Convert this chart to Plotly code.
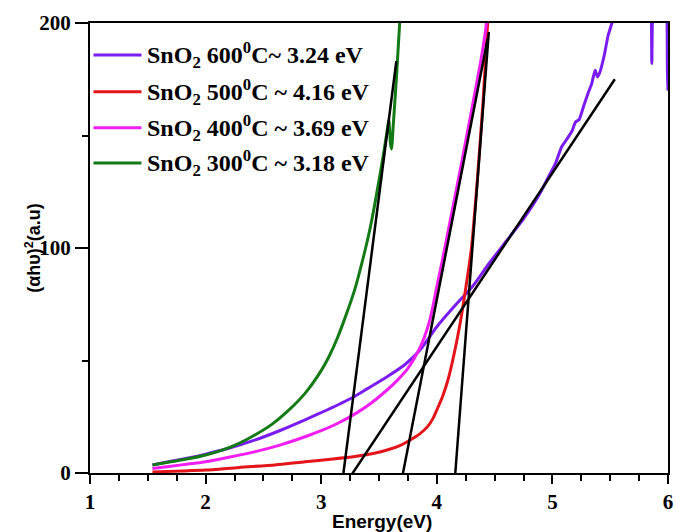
import plotly.graph_objects as go

# ---------------- data ----------------
x_300 = [1.54, 1.7, 1.85, 2.0, 2.15, 2.29, 2.43, 2.57, 2.71, 2.86, 3.0, 3.07, 3.14, 3.21, 3.29,
         3.37, 3.42, 3.46, 3.5, 3.54, 3.57, 3.585, 3.60, 3.61, 3.62, 3.65, 3.68, 3.70]
y_300 = [3.6, 5.0, 6.3, 8.0, 10.3, 13.2, 17.0, 21.5, 27.5, 35.4, 45.5, 52.0, 60.0, 69.5, 81.5,
         97.0, 108.0, 118.5, 130.0, 142.0, 152.0, 157.0, 146.0, 144.0, 152.0, 175.0, 201.0, 215.0]

x_400 = [1.54, 1.7, 1.85, 2.0, 2.2, 2.43, 2.65, 2.86, 3.0, 3.14, 3.3, 3.43, 3.55, 3.66, 3.75,
         3.83, 3.89, 3.94, 3.97, 4.0, 4.05, 4.1, 4.2, 4.3, 4.38, 4.42, 4.44]
y_400 = [2.0, 3.0, 4.0, 5.0, 7.0, 9.5, 12.5, 16.1, 18.8, 22.0, 26.5, 31.0, 36.0, 41.3, 46.5,
         53.2, 60.0, 68.0, 75.0, 82.8, 95.0, 108.0, 134.0, 161.0, 183.0, 196.0, 205.0]

x_500 = [1.54, 1.8, 2.0, 2.29, 2.6, 2.86, 3.1, 3.29, 3.45, 3.57, 3.68, 3.77, 3.85, 3.92, 3.97,
         4.0, 4.05, 4.1, 4.15, 4.2, 4.25, 4.3, 4.35, 4.4, 4.44, 4.45]
y_500 = [0.5, 0.9, 1.3, 2.5, 3.6, 5.0, 6.2, 7.3, 8.7, 10.2, 12.2, 14.7, 17.3, 20.6, 24.5,
         28.0, 34.0, 42.0, 53.0, 66.0, 82.0, 100.0, 130.0, 165.0, 200.0, 210.0]

x_600 = [1.54, 1.7, 1.85, 2.0, 2.2, 2.43, 2.65, 2.86, 3.05, 3.26, 3.4, 3.57, 3.72, 3.86, 4.0,
         4.15, 4.31, 4.45, 4.6, 4.75, 4.83, 4.9, 4.97, 5.03, 5.08, 5.12, 5.17, 5.2, 5.23, 5.27,
         5.31, 5.34, 5.37, 5.39, 5.41, 5.45, 5.48, 5.52, 5.55, 5.8, 5.85, 5.86, 5.875, 5.95,
         5.985, 5.995, 6.0]
y_600 = [3.6, 5.2, 6.7, 8.4, 11.0, 14.7, 19.0, 23.6, 28.0, 33.2, 37.5, 42.8, 48.0, 55.0, 65.0,
         74.0, 83.0, 93.0, 103.0, 113.0, 119.0, 125.0, 132.0, 138.0, 145.0, 148.0, 152.0, 156.0,
         157.0, 163.0, 169.0, 173.0, 179.0, 176.0, 178.0, 186.0, 194.0, 201.0, 210.0, 225.0,
         212.0, 182.0, 212.0, 225.0, 215.0, 178.0, 170.0]

# tangent (Tauc) lines: [x_start, x_end], [y_start, y_end]
fit_300_x, fit_300_y = [3.19, 3.65], [-1, 183]
fit_600_x, fit_600_y = [3.26, 5.54], [-1, 175]
fit_400_x, fit_400_y = [3.70, 4.44], [-2, 193]
fit_500_x, fit_500_y = [4.16, 4.45], [0, 196]

legend_labels = [
    "SnO<sub>2</sub> 600<sup>0</sup>C~ 3.24 eV",
    "SnO<sub>2</sub> 500<sup>0</sup>C ~ 4.16 eV",
    "SnO<sub>2</sub> 400<sup>0</sup>C ~ 3.69 eV",
    "SnO<sub>2</sub> 300<sup>0</sup>C ~ 3.18 eV",
]
colors = ["#7a1cf0", "#e3151b", "#f01ef0", "#137a16"]

x_ticks = [1, 2, 3, 4, 5, 6]
y_ticks = [0, 100, 200]

SERIF = "Liberation Serif"
SANS = "Liberation Sans"

# ---------------- figure ----------------
fig = go.Figure()

series = [(x_600, y_600), (x_500, y_500), (x_400, y_400), (x_300, y_300)]
for (xs, ys), col, name in zip(series, colors, legend_labels):
    fig.add_trace(go.Scatter(x=xs, y=ys, mode="lines", name=name,
                             line=dict(color=col, width=3, shape="spline", smoothing=0.6),
                             showlegend=False))

for fx, fy in [(fit_300_x, fit_300_y), (fit_600_x, fit_600_y),
               (fit_400_x, fit_400_y), (fit_500_x, fit_500_y)]:
    fig.add_trace(go.Scatter(x=fx, y=fy, mode="lines", line=dict(color="black", width=2.5),
                             showlegend=False, hoverinfo="skip"))

# manual legend (line samples + labels) placed in paper coordinates
leg_y = [0.929, 0.847, 0.767, 0.689]
for yy, col, lab in zip(leg_y, colors, legend_labels):
    fig.add_shape(type="line", xref="paper", yref="paper", x0=0.006, x1=0.089, y0=yy, y1=yy,
                  line=dict(color=col, width=3))
    fig.add_annotation(xref="paper", yref="paper", x=0.096, y=yy, xanchor="left",
                       yanchor="middle", text="<b>" + lab + "</b>", showarrow=False,
                       font=dict(family=SERIF, size=24, color="black"))

# axis titles placed as annotations
fig.add_annotation(xref="paper", yref="paper", x=0.505, y=-0.107, xanchor="center",
                   yanchor="middle", text="<b>Energy(eV)</b>", showarrow=False,
                   font=dict(family=SANS, size=19, color="black"))
fig.add_annotation(xref="paper", yref="paper", x=-0.099, y=0.5, xanchor="center",
                   yanchor="middle", textangle=-90, text="<b>(αhυ)<sup>2</sup>(a.u)</b>",
                   showarrow=False, font=dict(family=SANS, size=18, color="black"))

axis_common = dict(showline=True, linecolor="black", linewidth=2, mirror=True,
                   ticks="outside", tickcolor="black", tickwidth=2,
                   showgrid=False, zeroline=False, ticklabeloverflow="allow",
                   tickfont=dict(family=SERIF, size=21, color="black", weight="bold"))

fig.update_xaxes(range=[1, 6], tickvals=x_ticks, ticktext=["<b>%d</b>" % v for v in x_ticks],
                 ticklen=9,
                 minor=dict(dtick=0.25, tick0=1, ticks="outside", ticklen=6, tickwidth=2,
                            tickcolor="black", showgrid=False),
                 **axis_common)
fig.update_yaxes(range=[0, 200], tickvals=y_ticks, ticktext=["<b>%d</b>" % v for v in y_ticks],
                 ticklen=13,
                 minor=dict(dtick=50, tick0=0, ticks="outside", ticklen=6, tickwidth=2,
                            tickcolor="black", showgrid=False),
                 **axis_common)

fig.update_layout(width=676, height=532, plot_bgcolor="white", paper_bgcolor="white",
                  margin=dict(l=90, r=3, t=23, b=59), showlegend=False)

fig.write_html("out.html")
